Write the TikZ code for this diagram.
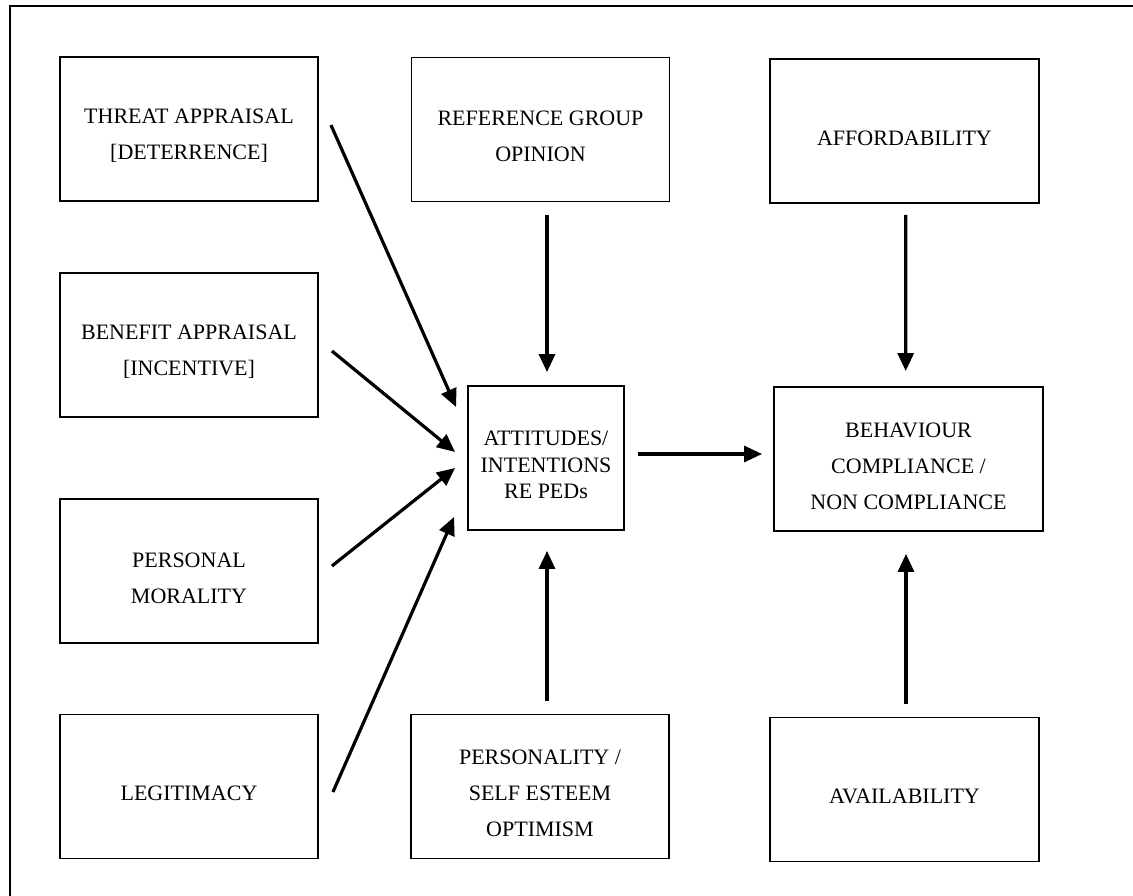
\documentclass[tikz,border=0pt]{standalone}
\usepackage{fontspec}
\setmainfont{Liberation Serif}
\usetikzlibrary{arrows.meta}
\newcommand\boxtopstrut{\rule{0pt}{21.5pt}}
\tikzset{
  box/.style={draw, line width=1.4pt, inner sep=0pt, align=center,
    font=\fontsize{16.5pt}{27pt}\selectfont},
  sbox/.style={box, minimum width=193.5pt, minimum height=108pt},
  wbox/.style={box, minimum width=201.75pt, minimum height=108pt},
  cbox/.style={box, minimum width=117pt, minimum height=108pt,
    font=\fontsize{16.5pt}{20pt}\selectfont},
  arr/.style={line width=2.4pt, -{Triangle[length=13.5pt,width=12pt]}},
  frame/.style={line width=1.6pt}
}
\begin{document}
\begin{tikzpicture}[x=0.75pt,y=-0.75pt]
\useasboundingbox (0,0) rectangle (1133,896);
\coordinate (fbl) at (10,905);
\coordinate (ftl) at (10,6);
\coordinate (ftr) at (1145,6);
\draw[frame] (fbl) -- (ftl) -- (ftr);

\node[sbox] (threat) at (189,129) {\boxtopstrut THREAT APPRAISAL\\{}[DETERRENCE]};
\node[sbox] (benefit) at (189,345) {\boxtopstrut BENEFIT APPRAISAL\\{}[INCENTIVE]};
\node[sbox] (moral) at (189,571) {\boxtopstrut PERSONAL\\MORALITY};
\node[sbox] (legit) at (189,786.5) {\boxtopstrut LEGITIMACY};

\node[sbox] (ref) at (540.5,129.5) {\boxtopstrut REFERENCE GROUP\\OPINION};
\node[cbox] (att) at (546,458) {\boxtopstrut ATTITUDES/\\INTENTIONS\\RE PEDs};
\node[sbox] (pers) at (540,786.5) {\boxtopstrut PERSONALITY /\\SELF ESTEEM\\OPTIMISM};

\node[wbox] (afford) at (904.5,131) {\boxtopstrut AFFORDABILITY};
\node[wbox] (behav) at (908.5,459) {\boxtopstrut BEHAVIOUR\\COMPLIANCE /\\NON COMPLIANCE};
\node[wbox] (avail) at (904.5,789.5) {\boxtopstrut AVAILABILITY};

% diagonal arrows into attitudes
\draw[arr] ([shift={(12,-4)}]threat.east) -- ([shift={(-11,-51)}]att.west);
\draw[arr] ([shift={(13,6)}]benefit.east) -- ([shift={(-12,-6)}]att.west);
\draw[arr] ([shift={(13,-5)}]moral.east) -- ([shift={(-12,10)}]att.west);
\draw[arr] ([shift={(14,5.5)}]legit.east) -- ([shift={(-13,59)}]att.west);

% vertical arrows
\draw[arr] ([shift={(6.5,13)}]ref.south) -- ([shift={(1,-13)}]att.north);
\draw[arr] ([shift={(7,-12.5)}]pers.north) -- ([shift={(1,20)}]att.south);
\draw[arr] ([shift={(1.2,11)}]afford.south) -- ([shift={(-2.8,-15)}]behav.north);
\draw[arr] ([shift={(1.5,-12.5)}]avail.north) -- ([shift={(-2.5,22)}]behav.south);

% horizontal arrow
\draw[arr] ([shift={(13,-4)}]att.east) -- ([shift={(-11,-5)}]behav.west);
\end{tikzpicture}
\end{document}
